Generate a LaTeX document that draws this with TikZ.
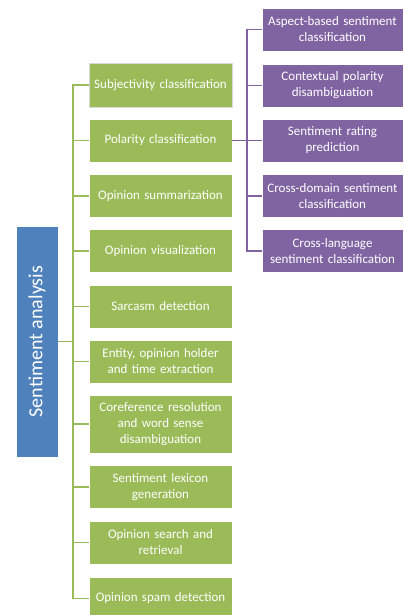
\documentclass[tikz,border=0pt]{standalone}
\usepackage{fontspec}
\setmainfont{Carlito}
\definecolor{gfill}{HTML}{9BBB59}
\definecolor{pfill}{HTML}{8064A2}
\definecolor{bfill}{HTML}{4F81BD}
\begin{document}
\begin{tikzpicture}[x=1pt,y=-1pt,
  gbox/.style={fill=gfill,draw=white,line width=0.8pt,text=white,minimum width=143pt,text width=140pt,align=center,inner sep=0pt,font=\fontsize{13}{16}\selectfont},
  pbox/.style={fill=pfill,draw=white,line width=0.8pt,text=white,minimum width=141pt,text width=140pt,minimum height=43pt,align=center,inner sep=0pt,font=\fontsize{13}{16}\selectfont},
  gline/.style={draw=gfill,line width=1.2pt},
  pline/.style={draw=pfill,line width=1.2pt}]
\useasboundingbox (0,0) rectangle (404,615);
% blue root
\node[fill=bfill,draw=white,line width=0.5pt,minimum width=42pt,minimum height=231pt,inner sep=0pt] (root) at (37,341.5) {};
\node[rotate=90,text=white,font=\fontsize{20}{24}\selectfont] (roottext) at (37,341.5) {Sentiment analysis};
% green boxes
\node[gbox,minimum height=44pt,draw=black!15] (g1) at (160.5,85) {Subjectivity classification};
\node[gbox,minimum height=43pt] (g2) at (160.5,140.5) {Polarity classification};
\node[gbox,minimum height=43pt] (g3) at (160.5,196) {Opinion summarization};
\node[gbox,minimum height=43pt] (g4) at (160.5,251) {Opinion visualization};
\node[gbox,minimum height=43pt] (g5) at (160.5,306.5) {Sarcasm detection};
\node[gbox,minimum height=43pt] (g6) at (160.5,361.5) {Entity, opinion holder\\and time extraction};
\node[gbox,minimum height=58pt] (g7) at (160.5,424) {Coreference resolution\\and word sense\\disambiguation};
\node[gbox,minimum height=43pt] (g8) at (160.5,487) {Sentiment lexicon\\generation};
\node[gbox,minimum height=43pt] (g9) at (160.5,542.5) {Opinion search and\\retrieval};
\node[gbox,minimum height=43pt] (g10) at (160.5,598.5) {Opinion spam detection};
% purple boxes
\node[pbox] (p1) at (332.5,29.5) {Aspect-based sentiment\\classification};
\node[pbox] (p2) at (332.5,85.5) {Contextual polarity\\disambiguation};
\node[pbox] (p3) at (332.5,140.5) {Sentiment rating\\prediction};
\node[pbox] (p4) at (332.5,196) {Cross-domain sentiment\\classification};
\node[pbox] (p5) at (332.5,251) {Cross-language\\sentiment classification};
% green connectors
\coordinate (gt) at (73,341.5);
\draw[gline] (root.east) -- (gt);
\foreach \n in {g1,g2,g3,g4,g5,g6,g7,g8,g9,g10}{
  \draw[gline] (gt) |- (\n.west);
}
% purple connectors
\coordinate (pt) at (247,140.5);
\draw[pline] (g2.east) -- (pt);
\foreach \n in {p1,p2,p3,p4,p5}{
  \draw[pline] (pt) |- (\n.west);
}
\end{tikzpicture}
\end{document}
